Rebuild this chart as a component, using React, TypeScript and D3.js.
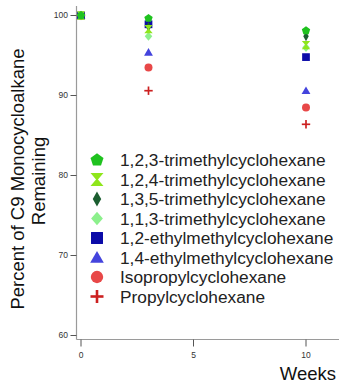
import React from "react";
import * as d3 from "d3";

const weeks = [0, 3, 10];
const names = [
  "1,2,3-trimethylcyclohexane",
  "1,2,4-trimethylcyclohexane",
  "1,3,5-trimethylcyclohexane",
  "1,1,3-trimethylcyclohexane",
  "1,2-ethylmethylcyclohexane",
  "1,4-ethylmethylcyclohexane",
  "Isopropylcyclohexane",
  "Propylcyclohexane",
];
const tmch123 = [100, 99.65, 98.1];
const tmch124 = [100, 98.3, 96.3];
const tmch135 = [100, 98.6, 97.4];
const tmch113 = [100, 97.4, 96.0];
const emch12 = [100, 98.9, 94.8];
const emch14 = [100, 95.4, 90.6];
const ipch = [100, 93.5, 88.5];
const pch = [100, 90.6, 86.4];
const seriesValues = [tmch123, tmch124, tmch135, tmch113, emch12, emch14, ipch, pch];
const shapes = ["pentagon", "hourglass", "diamondNarrow", "diamond", "square", "triangle", "circle", "plus"];
const colors = ["#1fc21f", "#8fe61c", "#1b5e30", "#8cf08c", "#0b0ba8", "#4444dd", "#e84848", "#cc2020"];
const yTicks = [60, 70, 80, 90, 100];
const xTicks = [0, 5, 10];

function markerPath(shape: string, s: number): string {
  const p = d3.path();
  if (shape === "pentagon") {
    const r = s * 1.05;
    for (let k = 0; k < 5; k++) {
      const a = -Math.PI / 2 + (k * 2 * Math.PI) / 5;
      const x = r * Math.cos(a), y = r * Math.sin(a);
      if (k === 0) p.moveTo(x, y); else p.lineTo(x, y);
    }
    p.closePath();
  } else if (shape === "hourglass") {
    p.moveTo(-s, -s); p.lineTo(s, -s); p.lineTo(s * 0.15, 0); p.lineTo(s, s);
    p.lineTo(-s, s); p.lineTo(-s * 0.15, 0); p.closePath();
  } else if (shape === "diamondNarrow") {
    p.moveTo(0, -s * 1.15); p.lineTo(s * 0.65, 0); p.lineTo(0, s * 1.15); p.lineTo(-s * 0.65, 0); p.closePath();
  } else if (shape === "diamond") {
    p.moveTo(0, -s * 1.05); p.lineTo(s * 0.9, 0); p.lineTo(0, s * 1.05); p.lineTo(-s * 0.9, 0); p.closePath();
  } else if (shape === "square") {
    p.rect(-s * 0.92, -s * 0.92, s * 1.84, s * 1.84);
  } else if (shape === "triangle") {
    p.moveTo(0, -s * 1.0); p.lineTo(s * 1.05, s * 0.8); p.lineTo(-s * 1.05, s * 0.8); p.closePath();
  } else if (shape === "circle") {
    p.arc(0, 0, s * 0.95, 0, Math.PI * 2);
  }
  return p.toString();
}

function Marker({ shape, color, x, y, s }: { shape: string; color: string; x: number; y: number; s: number }) {
  if (shape === "plus") {
    return (
      <g transform={`translate(${x},${y})`} stroke={color} strokeWidth={s * 0.4}>
        <line x1={-s} x2={s} y1={0} y2={0} />
        <line x1={0} x2={0} y1={-s} y2={s} />
      </g>
    );
  }
  return <path d={markerPath(shape, s)} transform={`translate(${x},${y})`} fill={color} />;
}

export default function App() {
  const W = 339, H = 383;
  const x = d3.scaleLinear().domain([0, 10]).range([81, 306]);
  const y = d3.scaleLinear().domain([60, 100]).range([335.5, 15.5]);
  const axisColor = "#9a9a9a";
  const font = "'Liberation Sans', Arial, sans-serif";
  const order = d3.range(seriesValues.length).reverse();
  return (
    <svg width={W} height={H} style={{ position: "absolute", left: 0, top: 0, background: "#fff" }} fontFamily={font}>
      {/* axes */}
      <line x1={76.5} x2={76.5} y1={6} y2={339.5} stroke={axisColor} strokeWidth={1.2} />
      <line x1={76.5} x2={339} y1={339.5} y2={339.5} stroke={axisColor} strokeWidth={1.2} />
      {yTicks.map((t) => (
        <g key={`yt${t}`}>
          <line x1={70.5} x2={76.5} y1={y(t)} y2={y(t)} stroke="#555" strokeWidth={1} />
          <text x={68} y={y(t)} dy="0.35em" textAnchor="end" fontSize={8.5} fill="#333">{t}</text>
        </g>
      ))}
      {xTicks.map((t) => (
        <g key={`xt${t}`}>
          <line x1={x(t)} x2={x(t)} y1={339.5} y2={346.5} stroke="#555" strokeWidth={1} />
          <text x={x(t)} y={355} dy="0.35em" textAnchor="middle" fontSize={8.5} fill="#333">{t}</text>
        </g>
      ))}
      {/* titles */}
      <text transform="translate(17,179) rotate(-90)" textAnchor="middle" dominantBaseline="central" fontSize={18.5} fill="#111">Percent of C9 Monocycloalkane</text>
      <text transform="translate(38.5,181) rotate(-90)" textAnchor="middle" dominantBaseline="central" fontSize={18.5} fill="#111">Remaining</text>
      <text x={336} y={380} textAnchor="end" fontSize={18.5} fill="#111">Weeks</text>
      {/* data */}
      {order.map((i) => (
        <g key={`s${i}`}>
          {seriesValues[i].map((v, j) => (
            <Marker key={j} shape={shapes[i]} color={colors[i]} x={x(weeks[j])} y={y(v)} s={4.2} />
          ))}
        </g>
      ))}
      {/* legend */}
      {names.map((n, i) => {
        const cy = 160 + i * 19.5;
        return (
          <g key={`l${i}`}>
            <Marker shape={shapes[i]} color={colors[i]} x={97} y={cy} s={6.5} />
            <text x={120} y={cy} dy="0.36em" fontSize={17.3} fill="#222">{n}</text>
          </g>
        );
      })}
    </svg>
  );
}
